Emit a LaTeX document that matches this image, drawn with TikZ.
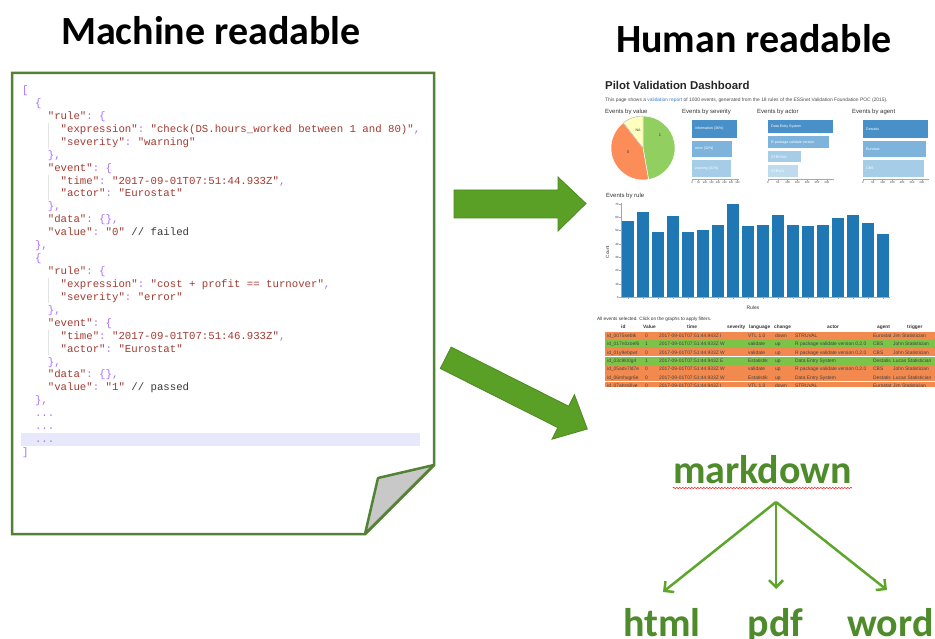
\documentclass[tikz,border=0pt]{standalone}
\usepackage{fontspec}
\setmainfont{Carlito}
\setmonofont{Liberation Mono}
\newfontfamily\dashfont{Liberation Sans}
\usetikzlibrary{arrows.meta,decorations.pathmorphing}

\definecolor{pagegreen}{HTML}{548235}
\definecolor{arrowgreen}{HTML}{5AA026}
\definecolor{arrowedge}{HTML}{4C8A20}
\definecolor{treegreen}{HTML}{5EA62B}
\definecolor{textgreen}{HTML}{4E8B2A}
\definecolor{jred}{HTML}{A33B32}
\definecolor{jpur}{HTML}{A86EFF}
\definecolor{jcom}{HTML}{3A3A3A}
\definecolor{hlband}{HTML}{E8E8FC}
\definecolor{foldgray}{HTML}{C8C8C8}
\definecolor{barblue}{HTML}{1F77B4}
\definecolor{sba}{HTML}{4A90C8}
\definecolor{sbb}{HTML}{7EB4DC}
\definecolor{sbc}{HTML}{A6CDE8}
\definecolor{sbd}{HTML}{BFDBEE}
\definecolor{pieg}{HTML}{91CF60}
\definecolor{pieo}{HTML}{FC8D59}
\definecolor{piey}{HTML}{FFFFBF}
\definecolor{roworange}{HTML}{F28A4F}
\definecolor{rowgreen}{HTML}{7CC448}
\definecolor{linkblue}{HTML}{3A7FC0}

\newcommand\JS[1]{\textcolor{jred}{#1}}
\newcommand\JP[1]{\textcolor{jpur}{#1}}
\newcommand\JC[1]{\textcolor{jcom}{#1}}
\newcommand\codeline[3]{\node[code] (c#1) at ({22+#2*6.42},{93.5+#1*12.93}) {#3};}

\begin{document}
\begin{tikzpicture}[x=1pt,y=-1pt,
  title/.style={anchor=base west, inner sep=0, font=\bfseries\fontsize{40}{48}\selectfont, text=black},
  code/.style={anchor=base west, inner sep=0, font=\ttfamily\fontsize{10.7}{12}\selectfont},
  guide/.style={draw=gray!22, line width=0.8},
  blockarrow/.style={fill=arrowgreen, draw=arrowedge, line width=0.8, line join=miter},
  dtxt/.style={inner sep=0, font=\dashfont\fontsize{#1}{#1}\selectfont, text=black!80},
  dtxt/.default=5,
  blab/.style={anchor=west, inner sep=0, font=\dashfont\fontsize{3.6}{4}\selectfont, text=white},
  axisln/.style={draw=gray!70, line width=0.4},
  treetext/.style={anchor=base, inner sep=0, font=\bfseries\fontsize{40}{48}\selectfont, text=textgreen},
  treearrow/.style={draw=treegreen, line width=2.5, -{Straight Barb[length=7pt,width=14pt]}}
]
\useasboundingbox[fill=white] (0,0) rectangle (935,639);

% ---------- titles ----------
\node[title] (mt) at (61,45) {Machine readable};
\node[title] (ht) at (616,53) {Human readable};

% ---------- page ----------
\draw[pagegreen, line width=2.5, line join=miter] (12,73) -- (434,73) -- (434,465) -- (365,534) -- (12,534) -- cycle;
\filldraw[fill=foldgray, draw=pagegreen, line width=2.5, line join=round] (434,465) -- (378,478) -- (365,534) -- cycle;
\fill[hlband] (21,433) rectangle (420,446);
\foreach \a in {3,7,15,19}{
  \draw[guide] (48.5,{93.5+\a*12.93-9.5}) -- (48.5,{93.5+(\a+1)*12.93+3});
}

\codeline{0}{0}{\JP{[}}
\codeline{1}{2}{\JP{\{}}
\codeline{2}{4}{\JS{"rule"}\JP{: \{}}
\codeline{3}{6}{\JS{"expression"}\JP{:} \JS{"check(DS.hours\_worked between 1 and 80)"}\JP{,}}
\codeline{4}{6}{\JS{"severity"}\JP{:} \JS{"warning"}}
\codeline{5}{4}{\JP{\},}}
\codeline{6}{4}{\JS{"event"}\JP{: \{}}
\codeline{7}{6}{\JS{"time"}\JP{:} \JS{"2017-09-01T07:51:44.933Z"}\JP{,}}
\codeline{8}{6}{\JS{"actor"}\JP{:} \JS{"Eurostat"}}
\codeline{9}{4}{\JP{\},}}
\codeline{10}{4}{\JS{"data"}\JP{: \{\},}}
\codeline{11}{4}{\JS{"value"}\JP{:} \JS{"0"} \JC{// failed}}
\codeline{12}{2}{\JP{\},}}
\codeline{13}{2}{\JP{\{}}
\codeline{14}{4}{\JS{"rule"}\JP{: \{}}
\codeline{15}{6}{\JS{"expression"}\JP{:} \JS{"cost + profit == turnover"}\JP{,}}
\codeline{16}{6}{\JS{"severity"}\JP{:} \JS{"error"}}
\codeline{17}{4}{\JP{\},}}
\codeline{18}{4}{\JS{"event"}\JP{: \{}}
\codeline{19}{6}{\JS{"time"}\JP{:} \JS{"2017-09-01T07:51:46.933Z"}\JP{,}}
\codeline{20}{6}{\JS{"actor"}\JP{:} \JS{"Eurostat"}}
\codeline{21}{4}{\JP{\},}}
\codeline{22}{4}{\JS{"data"}\JP{: \{\},}}
\codeline{23}{4}{\JS{"value"}\JP{:} \JS{"1"} \JC{// passed}}
\codeline{24}{2}{\JP{\},}}
\codeline{25}{2}{\JP{...}}
\codeline{26}{2}{\JP{...}}
\codeline{27}{2}{\JP{...}}
\codeline{28}{0}{\JP{]}}

% ---------- block arrows ----------
\filldraw[blockarrow] (454,190) -- (558,190) -- (558,177) -- (586,203.5) -- (558,231) -- (558,218) -- (454,218) -- cycle;
\filldraw[blockarrow] (440.3,368.5) -- (451.1,347.1) -- (568.6,406.2) -- (574.4,394.6) -- (587.3,429) -- (552.0,439.2) -- (557.8,427.6) -- cycle;

% ---------- dashboard ----------
\begin{scope}
\clip (590,70) rectangle (935,386);
\node[anchor=base west, inner sep=0, font=\dashfont\bfseries\fontsize{11.4}{13}\selectfont, text=black!85] (dt) at (605,90) {Pilot Validation Dashboard};
\node[anchor=base west, dtxt=4.9, text=black!70] (ds) at (605,101.5) {This page shows a \textcolor{linkblue}{validation report} of 1000 events, generated from the 18 rules of the ESSnet Validation Foundation POC (2015).};
\node[anchor=base west, dtxt=6] (l1) at (605,114) {Events by value};
\node[anchor=base west, dtxt=6] (l2) at (682,114) {Events by severity};
\node[anchor=base west, dtxt=6] (l3) at (757,114) {Events by actor};
\node[anchor=base west, dtxt=6] (l4) at (852,114) {Events by agent};

% pie
\begin{scope}[shift={(643,148)}, x=1pt, y=1pt]
  \filldraw[fill=pieg, draw=white, line width=0.5] (0,0) -- (-80:32) arc[start angle=-80, end angle=90, radius=32] -- cycle;
  \filldraw[fill=pieo, draw=white, line width=0.5] (0,0) -- (128:32) arc[start angle=128, end angle=280, radius=32] -- cycle;
  \filldraw[fill=piey, draw=gray!60, line width=0.4] (0,0) -- (90:32) arc[start angle=90, end angle=128, radius=32] -- cycle;
\end{scope}
\node[dtxt=4] (p1) at (660,135) {1};
\node[dtxt=4] (p0) at (628,152) {0};
\node[dtxt=3.6] (pna) at (638,130) {NA};

% severity
\fill[sba] (692,120) rectangle (737,138);
\fill[sbb] (692,141) rectangle (732,157);
\fill[sbc] (692,160) rectangle (731,177);
\node[blab] (s1) at (695,129) {information (36\%)};
\node[blab] (s2) at (695,149) {error (32\%)};
\node[blab] (s3) at (695,168.5) {warning (31\%)};
\draw[axisln] (692,179) -- (739,179);
\foreach \v [count=\k from 0] in {0,50,100,150,200,250,300,350}{
  \draw[axisln] ({692+\k*6.5},179) -- ({692+\k*6.5},180.8);
  \node[dtxt=2.6] (sa\k) at ({692+\k*6.5},183) {\v};
}
% actor
\fill[sba] (768,120) rectangle (833,133.5);
\fill[sbb] (768,136.5) rectangle (829,148);
\fill[sbc] (768,151) rectangle (801,162.5);
\fill[sbd] (768,165.5) rectangle (798,177);
\node[blab] (a1) at (771,126.8) {Data Entry System};
\node[blab] (a2) at (771,142.3) {R package validate version};
\node[blab] (a3) at (771,156.8) {STRUVAL};
\node[blab] (a4) at (771,171.3) {STRVAL};
\draw[axisln] (768,179) -- (834,179);
\foreach \v [count=\k from 0] in {0,50,100,150,200,250,300}{
  \draw[axisln] ({768+\k*9.8},179) -- ({768+\k*9.8},180.8);
  \node[dtxt=2.8] (aa\k) at ({768+\k*9.8},183) {\v};
}
% agent
\fill[sba] (863,120) rectangle (928,138);
\fill[sbb] (863,141) rectangle (926,157);
\fill[sbc] (863,160) rectangle (924,177);
\node[blab] (g1) at (866,129) {Destatis};
\node[blab] (g2) at (866,149) {Eurostat};
\node[blab] (g3) at (866,168.5) {CBS};
\draw[axisln] (863,179) -- (929,179);
\foreach \v [count=\k from 0] in {0,50,100,150,200,250,300}{
  \draw[axisln] ({863+\k*9.8},179) -- ({863+\k*9.8},180.8);
  \node[dtxt=2.8] (ga\k) at ({863+\k*9.8},183) {\v};
}

% events by rule
\node[anchor=base west, dtxt=6] (l5) at (606,198) {Events by rule};
\foreach \i/\t in {1/220,2/211.7,3/231.7,4/215.7,5/231.7,6/229.3,7/224,8/203.3,9/225.7,10/224,11/214.3,12/224,13/225.7,14/224,15/217.3,16/214.3,17/222.3,18/233.3}{
  \filldraw[fill=barblue, draw=white, line width=0.5] ({621.7+(\i-1)*15},297.3) rectangle ({621.7+(\i-1)*15+12.7},\t);
  \draw[axisln] ({621.7+(\i-1)*15+6.35},297.3) -- ({621.7+(\i-1)*15+6.35},299.3);
}
\draw[axisln] (621.3,203) -- (621.3,297.3) -- (890,297.3);
\foreach \v in {0,10,...,70}{
  \draw[axisln] (619.3,{297.3-\v*1.333}) -- (621.3,{297.3-\v*1.333});
  \node[anchor=east, dtxt=3] (yt\v) at (618.8,{297.3-\v*1.333}) {\v};
}
\node[rotate=90, dtxt=4.6] (cnt) at (607.5,252) {Count};
\node[dtxt=5] (rl) at (753,308) {Rules};

% table
\node[anchor=base west, dtxt=4.7] (tl) at (597,320) {All events selected. Click on the graphs to apply filters.};
\foreach \qx/\qt in {621/id,643/Value,687/time,727/severity,749/language,774/change,827/actor,877/agent,907/trigger}{
  \node[anchor=base west, inner sep=0, font=\dashfont\bfseries\fontsize{4.8}{5}\selectfont, text=black!80] (h\qt) at (\qx,328.5) {\qt};
}
\foreach \qa/\qb/\qc/\qd/\qe/\qf/\qg/\qh/\qi/\qj in {
  1/roworange/id\_0075sebtk/0/2017-09-01T07:51:44.943Z I/VTL 1.0/down/STRUVAL/Eurostat/Jim Statistician,
  2/rowgreen/id\_017n0zoef6/1/2017-09-01T07:51:44.933Z W/validate/up/R package validate version 0.2.0/CBS/John Statistician,
  3/roworange/id\_01y9ebpwt/0/2017-09-01T07:51:44.933Z W/validate/up/R package validate version 0.2.0/CBS/John Statistician,
  4/rowgreen/id\_03c9l00g4/1/2017-09-01T07:51:44.943Z E/Estatistik/up/Data Entry System/Destatis/Lucas Statistician,
  5/roworange/id\_05adv7ld7e/0/2017-09-01T07:51:44.933Z W/validate/up/R package validate version 0.2.0/CBS/John Statistician,
  6/roworange/id\_06mhugr6e/0/2017-09-01T07:51:44.933Z W/Estatistik/up/Data Entry System/Destatis/Lucas Statistician,
  7/roworange/id\_07ahrs0lve/0/2017-09-01T07:51:44.943Z I/VTL 1.0/down/STRUVAL/Eurostat/Jim Statistician}{
  \fill[\qb] (605,{331.7+(\qa-1)*8.3}) rectangle (935,{331.7+\qa*8.3-0.4});
  \begin{scope}[every node/.style={anchor=base west, dtxt=4.9, text=black!75}]
  \node (ra\qa) at (607,{331.7+(\qa-1)*8.3+5.8}) {\qc};
  \node (rb\qa) at (645,{331.7+(\qa-1)*8.3+5.8}) {\qd};
  \node (rc\qa) at (659,{331.7+(\qa-1)*8.3+5.8}) {\qe};
  \node (rd\qa) at (748,{331.7+(\qa-1)*8.3+5.8}) {\qf};
  \node (re\qa) at (775,{331.7+(\qa-1)*8.3+5.8}) {\qg};
  \node (rf\qa) at (795,{331.7+(\qa-1)*8.3+5.8}) {\qh};
  \node (rg\qa) at (873,{331.7+(\qa-1)*8.3+5.8}) {\qi};
  \node (rh\qa) at (893,{331.7+(\qa-1)*8.3+5.8}) {\qj};
  \end{scope}
}
\end{scope}

% ---------- markdown tree ----------
\node[treetext] (md) at (762.5,483) {markdown};
\draw[red!85, line width=0.6, decorate, decoration={snake, amplitude=0.8pt, segment length=3pt}] ([yshift=-5pt]md.base west) -- ([yshift=-5pt]md.base east);
\coordinate (split) at (776,502);
\node[treetext] (html) at (662,636) {html};
\node[treetext] (pdf) at (775.5,636) {pdf};
\node[treetext] (word) at (890.5,636) {word};
\coordinate (hend) at (663,592);
\coordinate (pend) at (776,589);
\coordinate (wend) at (887,590);
\draw[treearrow] (split) -- (hend);
\draw[treearrow] (split) -- (pend);
\draw[treearrow] (split) -- (wend);
\end{tikzpicture}
\end{document}
